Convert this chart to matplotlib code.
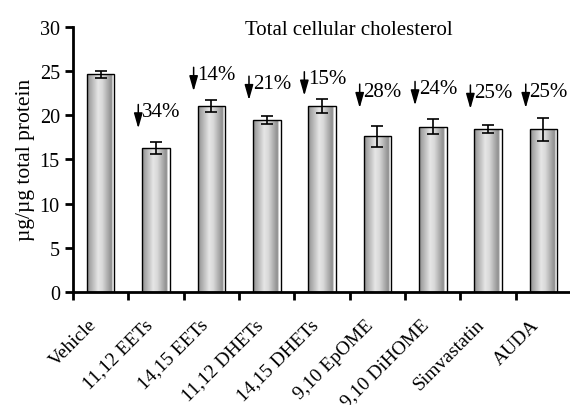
import matplotlib.pyplot as plt
import numpy as np
from matplotlib.transforms import ScaledTranslation

plt.rcParams['font.family'] = ['Liberation Serif', 'DejaVu Serif']

treatments = ["Vehicle", "11,12 EETs", "14,15 EETs", "11,12 DHETs", "14,15 DHETs",
              "9,10 EpOME", "9,10 DiHOME", "Simvastatin", "AUDA"]
cholesterol = [24.6, 16.3, 21.0, 19.4, 21.0, 17.6, 18.7, 18.4, 18.4]
sem = [0.35, 0.65, 0.7, 0.45, 0.8, 1.15, 0.85, 0.45, 1.3]
reduction = [None, "34%", "14%", "21%", "15%", "28%", "24%", "25%", "25%"]

# arrow top (in y units) for each reduction label
arrow_top = [None, 21.2, 25.4, 24.4, 24.9, 23.5, 23.8, 23.4, 23.5]

fig = plt.figure(figsize=(5.7, 4.06), dpi=100)
ax = fig.add_axes([0.128, 0.278, 0.874, 0.654])

x = np.arange(len(treatments))
bars = ax.bar(x, cholesterol, width=0.5, color='none', edgecolor='black', linewidth=1.0, zorder=3)

# cylinder-like shading inside each bar
profile = np.interp(np.linspace(0, 1, 64),
                    [0, 0.1, 0.4, 0.55, 0.85, 0.9, 0.93, 1.0],
                    [0.55, 0.65, 0.9, 0.85, 0.58, 0.58, 1.0, 1.0])
grad = np.tile(profile, (2, 1))
for b in bars:
    x0, w, h = b.get_x(), b.get_width(), b.get_height()
    im = ax.imshow(grad, cmap='gray', vmin=0, vmax=1, aspect='auto',
                   extent=[x0, x0 + w, 0, h], zorder=2, interpolation='bilinear')
    im.set_clip_path(b)

ax.errorbar(x, cholesterol, yerr=sem, fmt='none', ecolor='black', elinewidth=1.2,
            capsize=4.5, capthick=1.2, zorder=4)

for i, lab in enumerate(reduction):
    if lab is None:
        continue
    ax_x = i - 0.32
    top = arrow_top[i]
    ax.annotate('', xy=(ax_x, top - 2.7), xytext=(ax_x, top),
                arrowprops=dict(arrowstyle='-|>,head_length=0.7,head_width=0.2', color='black',
                                lw=1.1, mutation_scale=13, shrinkA=0, shrinkB=0))
    ax.text(ax_x + 0.07, top - 0.8, lab, fontsize=15, va='center', ha='left')

ax.set_xlim(-0.5, len(treatments) - 0.5)
ax.set_ylim(0, 30)
ax.set_yticks(np.arange(0, 31, 5))
ax.set_xticks(x)
ax.set_xticks(np.arange(-0.5, len(treatments), 1), minor=True)
ax.tick_params(axis='x', which='major', length=0, pad=17)
ax.tick_params(axis='x', which='minor', length=6, width=2, direction='out')
ax.tick_params(axis='y', length=6, width=2, direction='out', labelsize=14.5)
ax.set_xticklabels(treatments, rotation=45, ha='right', rotation_mode='anchor', fontsize=14)
shift = ScaledTranslation(-9 / 72, 0, fig.dpi_scale_trans)
for lab in ax.get_xticklabels():
    lab.set_transform(lab.get_transform() + shift)
for s in ['top', 'right']:
    ax.spines[s].set_visible(False)
for s in ['left', 'bottom']:
    ax.spines[s].set_linewidth(2)

ax.set_ylabel('µg/µg total protein', fontsize=15.5, labelpad=3)
ax.text(0.553, 0.99, 'Total cellular cholesterol', transform=ax.transAxes,
        fontsize=15, ha='center', va='center')

fig.savefig('out.png', dpi=100)
